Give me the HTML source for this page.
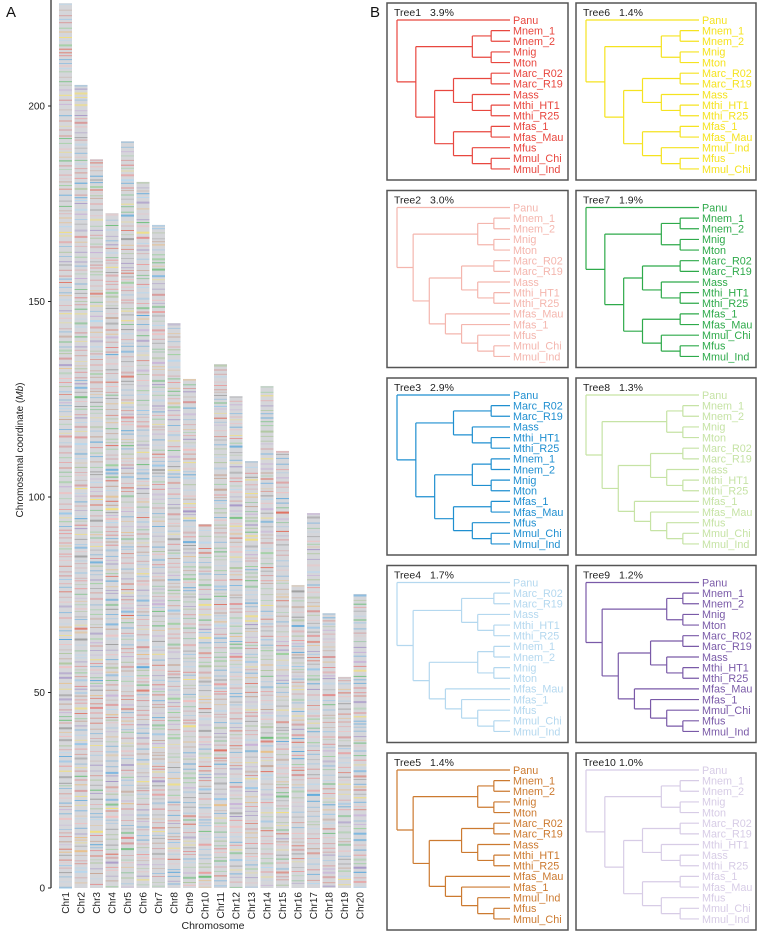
<!DOCTYPE html>
<html><head><meta charset="utf-8">
<style>
html,body{margin:0;padding:0;background:#fff;}
svg{display:block;font-family:"Liberation Sans",Arial,sans-serif;}
</style></head>
<body>
<svg id="fig" width="761" height="933" viewBox="0 0 761 933" xmlns="http://www.w3.org/2000/svg">
  <text x="6" y="17" font-size="15" fill="#111">A</text>
  <text x="370" y="17" font-size="15" fill="#111">B</text>
  <g id="chrom"></g>
  <g id="trees"></g>
</svg>
<script>
// ---- Panel A data ----
const chromNames = ["Chr1","Chr2","Chr3","Chr4","Chr5","Chr6","Chr7","Chr8","Chr9","Chr10","Chr11","Chr12","Chr13","Chr14","Chr15","Chr16","Chr17","Chr18","Chr19","Chr20"];
const chromLengths = [226.3,205.4,186.4,172.6,191,180.6,169.6,144.5,130.2,93.1,134,125.8,109.2,128.4,111.8,77.5,95.9,70.3,54,75.2];
const yTicks = [0,50,100,150,200];
const treeColors = ["#e8473f","#f4b6ae","#1f8fd0","#b4d8ef","#cc7a30","#f5e320","#2eaa4a","#c6e3a5","#7a5aa8","#d7cce6"];

const NS="http://www.w3.org/2000/svg";
function mk(tag,attrs,parent){const e=document.createElementNS(NS,tag);for(const k in attrs)e.setAttribute(k,attrs[k]);parent.appendChild(e);return e;}

const yBase=888, pxPerMb=3.91;
function yScale(v){return yBase - v*pxPerMb;}
function xScale(i){return 59 + i*15.5;}
const colW=13;
const g=document.getElementById('chrom');

const ax=mk('line',{x1:51,y1:0,x2:51,y2:yBase,stroke:'#222','stroke-width':1.2},g);


yTicks.forEach(t=>{
  const tk=mk('line',{x1:48,y1:yScale(t),x2:51,y2:yScale(t),stroke:'#222','stroke-width':1},g);
  
  
  const tl=mk('text',{x:45,y:yScale(t)+3.5,'font-size':10,'text-anchor':'end',fill:'#222'},g);
  tl.textContent=t;
  
  
});
const yt=mk('text',{x:0,y:0,'font-size':10,'text-anchor':'middle',fill:'#222',transform:'translate(23,450) rotate(-90)'},g);
yt.innerHTML='Chromosomal coordinate (<tspan font-style="italic">Mb</tspan>)';


const xt=mk('text',{x:213,y:929,'font-size':10.5,'text-anchor':'middle',fill:'#222'},g);
xt.textContent='Chromosome';



// deterministic texture generator for band stripes
let seed=12345;
function rnd(){seed=(seed*1103515245+12345)%2147483648;return seed/2147483648;}
const bandPalette=["#e8a0a0","#e38b8b","#f0c0c0","#9cc8e8","#5aa8dc","#b8d8ee","#e8c08a","#f2e07a","#9fd0a0","#6fbf7a","#c8b0d8","#a898c8","#c8a898","#a0a0a0","#d89898","#e07060","#80b8e0","#b0c8a0"];

chromLengths.forEach((len,i)=>{
  const x=xScale(i), top=yScale(len);
  const cg=mk('g',{},g);
  
  
  mk('rect',{x:x,y:top,width:colW,height:yBase-top,fill:'#d5d6da'},cg);
  let y=top+0.5;
  while(y<yBase-1){
    const h=rnd()<0.85?1:2;
    const c=bandPalette[Math.floor(rnd()*bandPalette.length)];
    const op=0.4+rnd()*0.6;
    mk('rect',{x:x,y:y.toFixed(1),width:colW,height:h,fill:c,opacity:op.toFixed(2)},cg);
    y+=h+1.5+rnd()*3.5;
  }
  const lb=mk('text',{x:0,y:0,'font-size':10,'text-anchor':'end',fill:'#222',transform:`translate(${x+colW/2+3.5},892) rotate(-90)`},g);
  lb.textContent=chromNames[i];
  
  
});

// ---- Panel B data ----
const treeTitles=["Tree1","Tree2","Tree3","Tree4","Tree5","Tree6","Tree7","Tree8","Tree9","Tree10"];
const treePercents=["3.9%","3.0%","2.9%","1.7%","1.4%","1.4%","1.9%","1.3%","1.2%","1.0%"];
const NEM=[["Mnem_1","Mnem_2"],["Mnig","Mton"]];
const ARC=[["Marc_R02","Marc_R19"],["Mass",["Mthi_HT1","Mthi_R25"]]];
const treeTopologies=[
 ["Panu",[NEM,[ARC,[["Mfas_1","Mfas_Mau"],["Mfus",["Mmul_Chi","Mmul_Ind"]]]]]],
 ["Panu",[NEM,[ARC,["Mfas_Mau",["Mfas_1",["Mfus",["Mmul_Chi","Mmul_Ind"]]]]]]],
 ["Panu",[ARC,[NEM,[["Mfas_1","Mfas_Mau"],["Mfus",["Mmul_Chi","Mmul_Ind"]]]]]],
 ["Panu",[ARC,[NEM,["Mfas_Mau",["Mfas_1",["Mfus",["Mmul_Chi","Mmul_Ind"]]]]]]],
 ["Panu",[NEM,[ARC,["Mfas_Mau",["Mfas_1",["Mmul_Ind",["Mfus","Mmul_Chi"]]]]]]],
 ["Panu",[NEM,[ARC,[["Mfas_1","Mfas_Mau"],["Mmul_Ind",["Mfus","Mmul_Chi"]]]]]],
 ["Panu",[NEM,[ARC,[["Mfas_1","Mfas_Mau"],["Mmul_Chi",["Mfus","Mmul_Ind"]]]]]],
 ["Panu",[NEM,[ARC,["Mfas_1",["Mfas_Mau",["Mfus",["Mmul_Chi","Mmul_Ind"]]]]]]],
 ["Panu",[NEM,[ARC,["Mfas_Mau",["Mfas_1",["Mmul_Chi",["Mfus","Mmul_Ind"]]]]]]],
 ["Panu",[NEM,[[["Marc_R02","Marc_R19"],["Mthi_HT1",["Mass","Mthi_R25"]]],[["Mfas_1","Mfas_Mau"],["Mfus",["Mmul_Chi","Mmul_Ind"]]]]]]
];

const tg=document.getElementById('trees');
function height(n){return typeof n==='string'?0:1+Math.max(...n.map(height));}

treeTopologies.forEach((topo,ti)=>{
  const col=ti<5?0:1, row=ti%5;
  const L=col===0?387:576, T=3+row*187.5, W=col===0?181:180, H=177;
  const color=treeColors[ti];
  const pg=mk('g',{},tg);
  
  
  mk('rect',{x:L,y:T,width:W,height:H,fill:'#fff',stroke:'#555','stroke-width':1.5},pg);
  const t1=mk('text',{x:L+7,y:T+13,'font-size':10.5,fill:'#222'},pg);
  t1.textContent=treeTitles[ti];
  
  
  const t2=mk('text',{x:L+43,y:T+13,'font-size':10.5,fill:'#222'},pg);
  t2.textContent=treePercents[ti];
  
  
  const rootH=height(topo);
  const step=113/rootH;
  const leafX=L+123;
  let leafIdx=0;
  function nx(h){return L+10+(rootH-h)*step;}
  function draw(n){
    if(typeof n==='string'){
      const y=T+17+leafIdx*10.64; leafIdx++;
      const tx=mk('text',{x:L+126,y:y+3.8,'font-size':10.8,fill:color},pg);
      tx.textContent=n;
      
      
      return {x:leafX,y:y};
    }
    const h=height(n), x=nx(h);
    const ch=n.map(draw);
    const y0=ch[0].y, y1=ch[ch.length-1].y;
    mk('line',{x1:x,y1:y0,x2:x,y2:y1,stroke:color,'stroke-width':1.2},pg);
    ch.forEach(c=>{
      const ln=mk('line',{x1:x,y1:c.y,x2:c.x,y2:c.y,stroke:color,'stroke-width':1.2},pg);
      
      
    });
    return {x:x,y:(y0+y1)/2};
  }
  draw(topo);
});
</script>
</body></html>
